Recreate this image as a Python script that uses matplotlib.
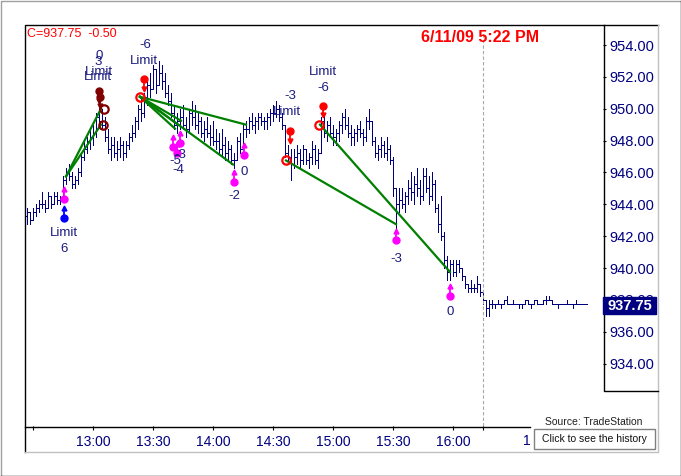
import matplotlib
matplotlib.use("Agg")
import matplotlib.pyplot as plt
import numpy as np
from matplotlib.patches import Rectangle

plt.rcParams["font.family"] = ["Liberation Sans", "DejaVu Sans"]

# bars: one every 1.5 minutes, time in minutes after 12:00
BAR_START = 27.0
BAR_STEP = 1.5
FIRST_OPEN = 943.25
highs = [943.75, 943.5, 943.75, 944.0, 944.25, 944.75, 944.25, 944.75, 944.5, 944.75, 944.75, 944.5,
         945.75, 946.25, 946.5, 946.0, 945.75, 946.25, 947.25, 948.0, 948.25, 948.75,
         949.0, 949.75, 950.25, 950.0, 949.5, 948.75, 948.25, 948.25, 948.0, 948.25, 948.0,
         948.0, 948.5, 949.0, 949.5, 950.25, 950.75, 951.0, 951.75, 952.25, 952.75, 952.5, 953.0,
         952.75, 952.25, 951.5, 951.0, 950.25, 949.75, 950.0, 950.25, 949.5, 950.0, 950.5, 950.25, 949.75, 949.5,
         949.25, 949.5, 949.0, 949.25, 948.75, 948.5, 948.75, 948.25, 948.0, 947.75, 947.25, 948.25, 948.5, 949.0, 949.25,
         949.5, 949.75, 949.5, 949.75, 949.75, 949.5, 949.75, 950.0, 950.25, 950.5, 950.25, 949.75,
         949.0, 947.75, 947.5, 947.5, 947.75, 947.5, 947.75, 947.5, 947.25, 948.0, 947.75, 947.5,
         949.5, 949.75, 949.25, 949.5, 949.0, 948.75, 949.25, 949.75, 950.0, 949.5, 949.0, 948.75, 949.0, 949.25, 948.75, 949.5, 950.0,
         949.25, 948.25, 947.75, 948.25, 948.0, 948.25, 947.75, 947.0, 945.0,
         945.0, 945.0, 944.75, 945.5, 946.0, 945.75, 946.25, 945.5, 946.25, 946.25, 945.75, 946.0, 945.5, 944.0, 944.5, 942.25, 940.75,
         940.5, 940.5, 940.5, 940.5, 940.0, 939.5, 939.0, 939.25, 939.0, 939.5, 939.0,
         938.5, 938.0, 938.0,
         938.0, 937.75, 938.0, 937.75, 938.0, 938.25, 937.75, 938.0, 937.75, 937.75, 937.75, 938.0, 938.0, 937.75, 938.0, 938.0,
         937.75, 938.0, 938.25, 938.25, 938.0, 937.75, 937.75, 937.75, 937.75, 938.0, 937.75, 937.75, 938.0, 937.75, 937.75, 937.75]
lows = [942.75, 942.75, 943.0, 943.25, 943.5, 943.75, 943.5, 943.75, 943.75, 944.0, 944.0, 944.0,
        944.25, 945.25, 945.5, 945.0, 945.0, 945.25, 945.75, 946.75, 947.25, 947.5,
        947.75, 948.25, 949.0, 948.75, 948.0, 947.25, 946.75, 947.0, 946.75, 947.0, 946.75,
        947.0, 947.5, 948.0, 948.25, 948.75, 949.25, 949.5, 950.25, 950.75, 951.25, 951.0, 951.5,
        951.25, 950.75, 950.25, 949.5, 948.75, 948.5, 948.75, 948.75, 948.25, 948.5, 949.0, 948.75, 948.5, 948.25,
        948.0, 948.25, 947.75, 947.75, 947.5, 947.25, 947.0, 946.75, 946.75, 946.5, 946.25, 946.75, 947.25, 947.5, 948.25,
        948.5, 948.75, 948.5, 948.75, 949.0, 948.75, 948.75, 949.0, 949.25, 949.5, 949.25, 948.75,
        947.0, 946.5, 945.5, 946.25, 946.5, 946.25, 946.5, 946.5, 946.25, 946.5, 946.5, 946.25,
        947.25, 948.25, 948.0, 948.25, 947.75, 947.75, 948.0, 948.5, 948.75, 948.25, 947.75, 947.75, 948.0, 948.25, 947.75, 948.0, 948.75,
        947.75, 947.0, 946.75, 947.0, 947.0, 946.75, 946.5, 944.5, 942.5,
        943.5, 943.75, 943.5, 944.0, 944.25, 944.0, 944.5, 944.0, 944.25, 944.75, 944.0, 944.25, 943.5, 942.25, 941.75, 940.0, 939.25,
        939.25, 939.5, 939.5, 939.75, 939.25, 938.75, 938.5, 938.5, 938.5, 938.5, 938.25,
        937.75, 937.0, 937.0,
        937.5, 937.5, 937.75, 937.5, 937.75, 937.75, 937.75, 937.75, 937.75, 937.5, 937.5, 937.75, 937.75, 937.5, 937.75, 937.75,
        937.75, 937.75, 937.75, 938.0, 937.75, 937.75, 937.5, 937.75, 937.75, 937.75, 937.75, 937.5, 937.75, 937.75, 937.75, 937.75]
closes = [943.5, 943.0, 943.5, 943.75, 944.0, 944.0, 943.75, 944.5, 944.0, 944.5, 944.25, 944.25,
          945.5, 946.0, 945.75, 945.25, 945.5, 946.0, 947.0, 947.5, 948.0, 948.25,
          948.5, 949.5, 949.25, 949.0, 948.25, 947.5, 947.75, 947.25, 947.5, 947.75, 947.25,
          947.75, 948.25, 948.5, 949.25, 950.0, 949.75, 950.75, 951.5, 951.25, 952.5, 951.5, 952.25,
          951.75, 951.0, 950.5, 949.75, 949.0, 949.25, 949.5, 949.0, 948.75, 949.75, 949.5, 949.0, 949.25, 948.5,
          948.75, 948.5, 948.25, 948.0, 948.0, 947.5, 947.75, 947.25, 947.5, 946.75, 946.75, 948.0, 947.5, 948.75, 948.75,
          949.25, 949.0, 949.25, 949.5, 949.25, 949.25, 949.5, 949.75, 949.75, 950.0, 949.5, 949.0,
          947.25, 947.0, 946.5, 947.0, 947.25, 946.75, 947.5, 946.75, 947.0, 947.5, 946.75, 947.25,
          949.25, 948.5, 949.0, 948.5, 948.25, 948.5, 949.0, 949.5, 949.0, 948.5, 948.25, 948.5, 948.75, 948.5, 948.25, 949.25, 949.25,
          948.0, 947.25, 947.5, 947.75, 947.25, 947.5, 946.75, 945.0, 944.0,
          944.25, 944.0, 944.5, 945.0, 944.75, 945.25, 945.0, 944.5, 945.75, 945.0, 944.5, 945.25, 943.75, 942.75, 942.0, 940.5, 939.75,
          940.25, 939.75, 940.25, 940.0, 939.5, 939.0, 938.75, 938.75, 938.75, 939.0, 938.5,
          938.0, 937.5, 937.75,
          937.75, 937.75, 937.75, 937.75, 938.0, 937.75, 937.75, 937.75, 937.75, 937.75, 937.75, 938.0, 937.75, 937.75, 938.0, 937.75,
          937.75, 938.0, 938.0, 938.0, 937.75, 937.75, 937.75, 937.75, 937.75, 937.75, 937.75, 937.75, 937.75, 937.75, 937.75, 937.75]

# trade lines: (entry time, entry price) -> (exit time, exit price)
trade_t0 = [46.5, 46.5, 83.5, 83.5, 83.5, 83.5, 83.5, 156.5, 173.5]
trade_p0 = [945.75, 945.75, 950.75, 950.75, 950.75, 950.75, 950.75, 946.75, 949.0]
trade_t1 = [64.0, 64.0, 101.0, 102.5, 104.0, 130.0, 136.5, 211.5, 238.5]
trade_p1 = [950.0, 949.0, 948.75, 949.0, 949.25, 946.5, 949.0, 942.75, 939.75]

# fill circles
red_circ_t = [83.5, 156.5, 173.0]
red_circ_p = [950.75, 946.75, 949.0]
dred_circ_t = [65.5, 65.0]
dred_circ_p = [950.0, 949.0]

# order arrows (dot at base)
red_arr_t = [85.5, 158.5, 175.0]
red_arr_p = [951.85, 948.6, 950.2]
dred_arr_t = [63.0, 63.5]
dred_arr_p = [951.1, 950.75]
mag_arr_t = [45.5, 100.0, 103.5, 102.0, 130.5, 135.5, 211.5, 238.5]
mag_arr_p = [944.33, 947.6, 947.85, 947.2, 945.4, 947.1, 941.75, 938.25]
blue_arr_t = [45.5]
blue_arr_p = [943.15]

# order labels
lab_text = ["Limit", "6", "0", "3", "Limit", "Limit", "Limit", "-6", "-5", "-3", "-4",
            "-2", "0", "-3", "Limit", "-6", "Limit", "-3", "0"]
lab_t = [45.5, 45.5, 63.0, 62.5, 63.0, 62.5, 85.5, 86.0, 101.0, 103.5, 102.5,
         130.5, 135.5, 158.5, 157.0, 175.0, 175.0, 211.5, 238.5]
lab_p = [942.2, 941.2, 953.31, 952.93, 952.3, 951.99, 953.0, 954.0, 946.72, 947.1, 946.15,
         944.52, 946.03, 950.8, 949.8, 951.3, 952.3, 940.57, 937.24]

price_ticks = [934, 936, 938, 940, 942, 944, 946, 948, 950, 952, 954]
time_ticks = [30, 60, 90, 120, 150, 180, 210, 240, 255]
time_labels = ["", "13:00", "13:30", "14:00", "14:30", "15:00", "15:30", "16:00", ""]
SESSION_END = 255
LAST = 937.75

NAVY = "#000080"
W, H = 681, 476
fig = plt.figure(figsize=(W / 100, H / 100), dpi=100)

bg = fig.add_axes([0, 0, 1, 1], zorder=0)
bg.set_xlim(0, W); bg.set_ylim(H, 0); bg.axis("off")
bg.plot([0.5, 0.5, W - 0.5], [H - 0.5, 0.5, 0.5], color="#a0a0a0", lw=1)
bg.plot([0.5, W - 0.5, W - 0.5], [H - 0.5, H - 0.5, 0.5], color="black", lw=1)
bg.plot([24.5, 24.5, 657.5], [451.5, 24.5, 24.5], color="black", lw=1)
bg.plot([24.5, 657.5, 657.5], [451.5, 451.5, 24.5], color="#c0c0c0", lw=1)
bg.plot([24.5, 530], [426.5, 426.5], color="black", lw=1)
bg.plot([603.5, 603.5, 657.5], [24.5, 390.5, 390.5], color="black", lw=1)

ax = fig.add_axes([24 / W, 50 / H, 579 / W, 402 / H], zorder=1)
ax.patch.set_visible(False)
for s in ax.spines.values():
    s.set_visible(False)
ax.set_xlim(25.5, 315)
ax.set_ylim(930.08, 955.32)

t = BAR_START + BAR_STEP * np.arange(len(closes))
opens = [FIRST_OPEN] + closes[:-1]
kw = dict(color=NAVY, lw=0.6, antialiased=False)
ax.vlines(t, lows, highs, **kw)
ax.hlines(opens, t - 0.75, t, **kw)
ax.hlines(closes, t, t + 0.75, **kw)

ax.vlines(SESSION_END, 930.08, 954.75, color="#a8a8a8", lw=0.8, ls=(0, (3, 2)))

for a, b, c, d in zip(trade_t0, trade_p0, trade_t1, trade_p1):
    ax.plot([a, c], [b, d], color="#008000", lw=1.6, zorder=3)

ax.plot(red_circ_t, red_circ_p, "o", ms=6, mfc="none", mec="#ff0000", mew=1.6, zorder=4)
ax.plot(dred_circ_t, dred_circ_p, "o", ms=6, mfc="none", mec="#800000", mew=1.6, zorder=4)

ARR = 0.6
def arrows(ts, ps, color, up):
    for a, b in zip(ts, ps):
        tip = b + ARR if up else b - ARR
        ax.plot([a, a], [b, tip], color=color, lw=1.3, zorder=4)
        ax.plot(a, tip, "^" if up else "v", color=color, ms=3.5, zorder=4)
        ax.plot(a, b, "o", color=color, ms=5, zorder=4)

arrows(red_arr_t, red_arr_p, "#ff0000", False)
arrows(dred_arr_t, dred_arr_p, "#800000", False)
arrows(mag_arr_t, mag_arr_p, "#ff00ff", True)
arrows(blue_arr_t, blue_arr_p, "#0000ff", True)

for s, a, b in zip(lab_text, lab_t, lab_p):
    ax.text(a, b, s, ha="center", va="center", fontsize=9.5, color="#1a1a80", zorder=5)

ax.yaxis.tick_right()
ax.set_yticks(price_ticks)
ax.set_yticklabels([f"{v:.2f}" for v in price_ticks])
ax.tick_params(axis="y", direction="out", length=2.5, width=0.8, pad=2,
               labelsize=10.5, labelcolor=NAVY)
ax.set_xticks(time_ticks)
ax.set_xticklabels(time_labels)
ax.tick_params(axis="x", direction="out", length=3, width=0.8, pad=3.5,
               labelsize=10, labelcolor=NAVY)

top = fig.add_axes([0, 0, 1, 1], zorder=2)
top.set_xlim(0, W); top.set_ylim(H, 0); top.axis("off")
top.text(27, 34, f"C={LAST:.2f}  -0.50", color="#ff0000", fontsize=9, va="center")
top.text(480, 37, "6/11/09 5:22 PM", color="#ff0000", fontsize=11.5,
         fontweight="bold", ha="center", va="center")
top.add_patch(Rectangle((603, 297), 53, 17, color=NAVY))
top.text(630, 305.5, f"{LAST:.2f}", color="white", fontsize=10.5,
         fontweight="bold", ha="center", va="center")
top.text(527, 441, "1", color=NAVY, fontsize=10, ha="center", va="center")
top.text(594, 422, "Source: TradeStation", color="#202020", fontsize=7.5,
         ha="center", va="center")
top.add_patch(Rectangle((533.5, 428.5), 121, 20, facecolor="white",
                        edgecolor="#808080", lw=1))
top.text(594, 438.5, "Click to see the history", color="#101010", fontsize=7.5,
         ha="center", va="center")

fig.savefig("out.png", dpi=100)
